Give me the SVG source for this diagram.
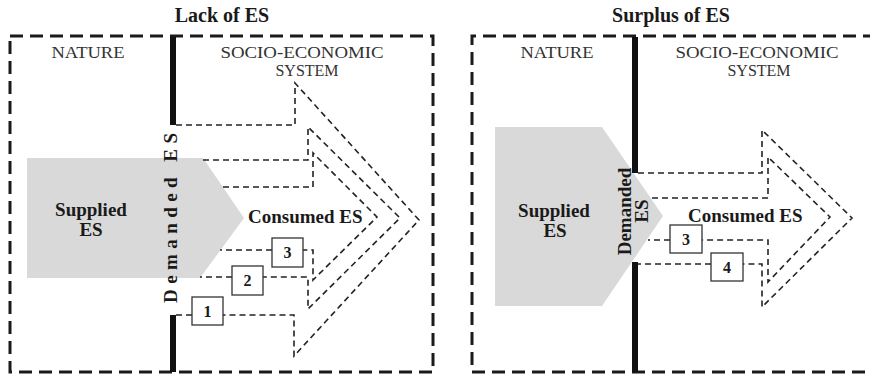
<svg xmlns="http://www.w3.org/2000/svg" width="870" height="377" viewBox="0 0 870 377">
<style>
text{font-family:"Liberation Serif","Times New Roman",serif;}
.title{font-size:20px;font-weight:bold;fill:#1a1a1a;text-anchor:middle;}
.region{font-size:16px;fill:#333;text-anchor:middle;}
.bold{font-size:19px;font-weight:bold;fill:#1a1a1a;}
.mid{text-anchor:middle;}
.num{font-size:16px;font-weight:bold;fill:#1a1a1a;text-anchor:middle;}
.border{fill:none;stroke:#1a1a1a;stroke-width:3;stroke-dasharray:13 7;}
.bar{stroke:#111;stroke-width:6;}
.supply{fill:#d9d9d9;stroke:none;}
.flow{fill:none;stroke:#222;stroke-width:1.6;stroke-dasharray:6 4;}
.box{fill:#fff;stroke:#333;stroke-width:1.3;}
</style>

<!-- Left panel -->
<g id="panel-lack">
  <text class="title" x="222" y="22">Lack of ES</text>
  <rect class="border" x="10" y="36" width="423" height="336"/>
  <text class="region" x="88" y="58" textLength="73" lengthAdjust="spacingAndGlyphs">NATURE</text>
  <text class="region" x="302" y="58" textLength="163" lengthAdjust="spacingAndGlyphs">SOCIO-ECONOMIC</text>
  <text class="region" x="307" y="76">SYSTEM</text>
</g>
<g id="supplied-left">
  <polygon class="supply" points="27,158 203,158 244,218 200,278 27,278"/>
  <text class="bold mid" x="91" y="216">Supplied</text>
  <text class="bold mid" x="91" y="236">ES</text>
</g>
<g id="boundary-left">
  <line class="bar" x1="173" y1="37" x2="173" y2="125"/>
  <line class="bar" x1="173" y1="315" x2="173" y2="372"/>
  <text class="bold" font-size="18" transform="translate(177,303) rotate(-90)" textLength="170" lengthAdjust="spacing">Demanded ES</text>
</g>
<g id="consumed-left">
  <text class="bold" x="248" y="223">Consumed ES</text>
</g>

<!-- Right panel -->
<g id="panel-surplus">
  <text class="title" x="671" y="22">Surplus of ES</text>
  <path class="border" d="M876,36 H472 V372 H876"/>
  <text class="region" x="557" y="58" textLength="73" lengthAdjust="spacingAndGlyphs">NATURE</text>
  <text class="region" x="757" y="58" textLength="163" lengthAdjust="spacingAndGlyphs">SOCIO-ECONOMIC</text>
  <text class="region" x="759" y="76">SYSTEM</text>
</g>
<g id="supplied-right">
  <polygon class="supply" points="495,127 602,127 663,216 602,306 495,306"/>
  <text class="bold mid" x="554" y="217">Supplied</text>
  <text class="bold mid" x="555" y="237">ES</text>
</g>
<g id="boundary-right">
  <line class="bar" x1="635" y1="37" x2="635" y2="173"/>
  <line class="bar" x1="635" y1="262" x2="635" y2="372"/>
  <text class="bold mid" font-size="17" transform="translate(631,211.5) rotate(-90)">Demanded</text>
  <text class="bold mid" font-size="17" transform="translate(648,211) rotate(-90)">ES</text>
</g>
<g id="consumed-right">
  <text class="bold" x="688" y="222">Consumed ES</text>
</g>

<!-- Connectors: dashed flow arrows -->
<g id="connectors">
  <polyline class="flow" points="176,125 295,125 295,83 419,220 294,356 294,315 223,315"/>
  <line class="flow" x1="192" y1="315" x2="176" y2="315"/>
  <polyline class="flow" points="203,160 308,160 308,127 400,218 308,309 308,277 263,277"/>
  <line class="flow" x1="232" y1="277" x2="200" y2="277"/>
  <polyline class="flow" points="223,187 313,187 313,153 377,217 313,280 313,250 303,250"/>
  <line class="flow" x1="272" y1="250" x2="220" y2="250"/>

  <polyline class="flow" points="638,173 762,173 762,130 852,218 762,307 762,264 743,264"/>
  <line class="flow" x1="711" y1="264" x2="638" y2="264"/>
  <polyline class="flow" points="652,198 768,198 768,157 830,217 768,282 768,240 702,240"/>
  <line class="flow" x1="670" y1="240" x2="648" y2="240"/>
</g>

<!-- Numbered boxes -->
<g id="box-1-left">
  <rect class="box" x="192" y="297" width="31" height="28"/>
  <text class="num" x="207.5" y="317">1</text>
</g>
<g id="box-2-left">
  <rect class="box" x="232" y="266" width="31" height="29"/>
  <text class="num" x="247.5" y="286">2</text>
</g>
<g id="box-3-left">
  <rect class="box" x="272" y="238" width="31" height="29"/>
  <text class="num" x="287.5" y="258">3</text>
</g>
<g id="box-3-right">
  <rect class="box" x="670" y="225" width="32" height="28"/>
  <text class="num" x="686" y="245">3</text>
</g>
<g id="box-4-right">
  <rect class="box" x="711" y="253" width="32" height="28"/>
  <text class="num" x="727" y="273">4</text>
</g>
</svg>
